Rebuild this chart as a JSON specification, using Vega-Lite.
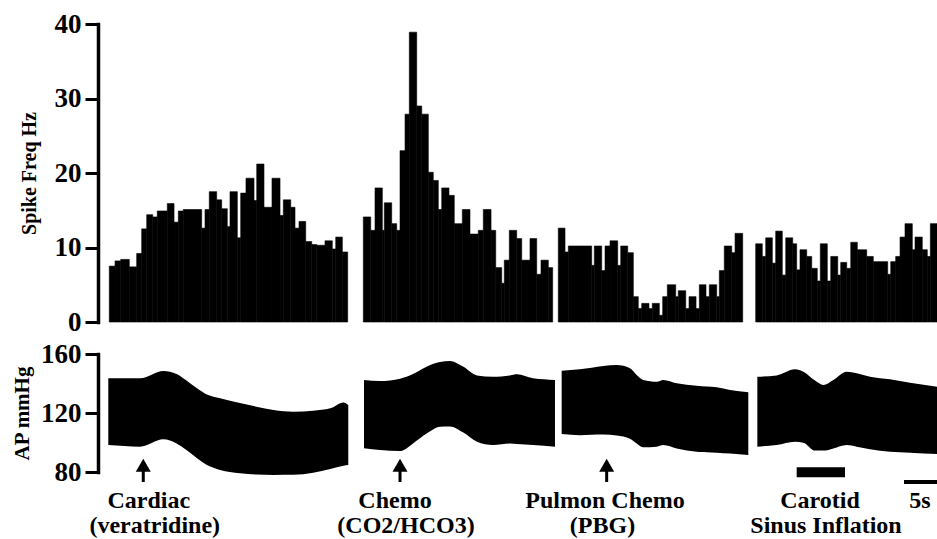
{
  "$schema": "https://vega.github.io/schema/vega-lite/v6.json",
  "width": 839,
  "height": 515,
  "autosize": "none",
  "padding": {"left": 98, "top": 24, "right": 0, "bottom": 0},
  "background": "white",
  "config": {"view": {"stroke": null}, "font": "Liberation Serif"},
  "datasets": {
    "spikes": [
      {"seg":1,"t0":1.71,"t1":2.58,"hz":7.5},{"seg":1,"t0":2.58,"t1":3.44,"hz":8.2},{"seg":1,"t0":3.44,"t1":4.74,"hz":8.4},{"seg":1,"t0":4.74,"t1":5.86,"hz":7.4},{"seg":1,"t0":5.86,"t1":6.62,"hz":9.2},{"seg":1,"t0":6.62,"t1":7.38,"hz":12.5},{"seg":1,"t0":7.38,"t1":8.29,"hz":14.4},{"seg":1,"t0":8.29,"t1":8.98,"hz":14.1},{"seg":1,"t0":8.98,"t1":10.50,"hz":14.9},{"seg":1,"t0":10.50,"t1":11.52,"hz":15.9},{"seg":1,"t0":11.52,"t1":12.17,"hz":13.4},{"seg":1,"t0":12.17,"t1":12.92,"hz":14.9},{"seg":1,"t0":12.92,"t1":15.71,"hz":15.1},{"seg":1,"t0":15.71,"t1":16.21,"hz":12.6},{"seg":1,"t0":16.21,"t1":16.86,"hz":15.1},{"seg":1,"t0":16.86,"t1":17.98,"hz":17.5},{"seg":1,"t0":17.98,"t1":18.74,"hz":16.4},{"seg":1,"t0":18.74,"t1":19.59,"hz":15.2},{"seg":1,"t0":19.59,"t1":20.00,"hz":12.8},{"seg":1,"t0":20.00,"t1":21.11,"hz":17.5},{"seg":1,"t0":21.11,"t1":21.62,"hz":11.3},{"seg":1,"t0":21.62,"t1":22.42,"hz":17.3},{"seg":1,"t0":22.42,"t1":23.64,"hz":19.3},{"seg":1,"t0":23.64,"t1":24.05,"hz":16.3},{"seg":1,"t0":24.05,"t1":25.15,"hz":21.2},{"seg":1,"t0":25.15,"t1":26.36,"hz":15.4},{"seg":1,"t0":26.36,"t1":27.58,"hz":19.3},{"seg":1,"t0":27.58,"t1":28.08,"hz":14.3},{"seg":1,"t0":28.08,"t1":29.20,"hz":16.4},{"seg":1,"t0":29.20,"t1":29.85,"hz":15.4},{"seg":1,"t0":29.85,"t1":30.45,"hz":12.6},{"seg":1,"t0":30.45,"t1":31.47,"hz":13.5},{"seg":1,"t0":31.47,"t1":32.38,"hz":10.8},{"seg":1,"t0":32.38,"t1":33.14,"hz":10.4},{"seg":1,"t0":33.14,"t1":34.39,"hz":10.3},{"seg":1,"t0":34.39,"t1":35.50,"hz":10.9},{"seg":1,"t0":35.50,"t1":36.02,"hz":9.8},{"seg":1,"t0":36.02,"t1":37.02,"hz":11.4},{"seg":1,"t0":37.02,"t1":37.83,"hz":9.4},
      {"seg":2,"t0":40.20,"t1":41.32,"hz":14.1},{"seg":2,"t0":41.32,"t1":41.97,"hz":12.3},{"seg":2,"t0":41.97,"t1":43.08,"hz":18.0},{"seg":2,"t0":43.08,"t1":43.38,"hz":12.3},{"seg":2,"t0":43.38,"t1":44.50,"hz":16.0},{"seg":2,"t0":44.50,"t1":45.26,"hz":13.2},{"seg":2,"t0":45.26,"t1":45.76,"hz":12.3},{"seg":2,"t0":45.76,"t1":46.52,"hz":23.0},{"seg":2,"t0":46.52,"t1":47.17,"hz":27.9},{"seg":2,"t0":47.17,"t1":48.29,"hz":38.9},{"seg":2,"t0":48.29,"t1":49.05,"hz":29.0},{"seg":2,"t0":49.05,"t1":50.05,"hz":27.9},{"seg":2,"t0":50.05,"t1":50.80,"hz":20.1},{"seg":2,"t0":50.80,"t1":51.56,"hz":19.0},{"seg":2,"t0":51.56,"t1":52.08,"hz":15.1},{"seg":2,"t0":52.08,"t1":53.18,"hz":18.0},{"seg":2,"t0":53.18,"t1":53.98,"hz":17.0},{"seg":2,"t0":53.98,"t1":55.20,"hz":13.2},{"seg":2,"t0":55.20,"t1":56.36,"hz":15.1},{"seg":2,"t0":56.36,"t1":57.62,"hz":11.8},{"seg":2,"t0":57.62,"t1":58.38,"hz":12.3},{"seg":2,"t0":58.38,"t1":59.55,"hz":15.1},{"seg":2,"t0":59.55,"t1":60.26,"hz":12.3},{"seg":2,"t0":60.26,"t1":61.17,"hz":7.3},{"seg":2,"t0":61.17,"t1":61.56,"hz":5.2},{"seg":2,"t0":61.56,"t1":62.32,"hz":8.3},{"seg":2,"t0":62.32,"t1":63.44,"hz":12.3},{"seg":2,"t0":63.44,"t1":64.20,"hz":11.2},{"seg":2,"t0":64.20,"t1":65.45,"hz":8.3},{"seg":2,"t0":65.45,"t1":66.47,"hz":11.2},{"seg":2,"t0":66.47,"t1":67.12,"hz":6.4},{"seg":2,"t0":67.12,"t1":68.23,"hz":8.3},{"seg":2,"t0":68.23,"t1":68.89,"hz":7.3},
      {"seg":3,"t0":69.74,"t1":70.76,"hz":12.6},{"seg":3,"t0":70.76,"t1":71.26,"hz":9.4},{"seg":3,"t0":71.26,"t1":74.80,"hz":10.2},{"seg":3,"t0":74.80,"t1":75.20,"hz":7.6},{"seg":3,"t0":75.20,"t1":76.32,"hz":10.2},{"seg":3,"t0":76.32,"t1":76.82,"hz":6.9},{"seg":3,"t0":76.82,"t1":77.58,"hz":10.2},{"seg":3,"t0":77.58,"t1":78.74,"hz":10.9},{"seg":3,"t0":78.74,"t1":79.20,"hz":7.6},{"seg":3,"t0":79.20,"t1":80.26,"hz":10.2},{"seg":3,"t0":80.26,"t1":81.11,"hz":9.3},{"seg":3,"t0":81.11,"t1":81.86,"hz":3.4},{"seg":3,"t0":81.86,"t1":82.38,"hz":1.8},{"seg":3,"t0":82.38,"t1":83.48,"hz":2.5},{"seg":3,"t0":83.48,"t1":83.98,"hz":1.8},{"seg":3,"t0":83.98,"t1":85.05,"hz":2.5},{"seg":3,"t0":85.05,"t1":85.56,"hz":0.9},{"seg":3,"t0":85.56,"t1":86.26,"hz":3.4},{"seg":3,"t0":86.26,"t1":87.53,"hz":5.0},{"seg":3,"t0":87.53,"t1":87.92,"hz":3.4},{"seg":3,"t0":87.92,"t1":89.05,"hz":4.2},{"seg":3,"t0":89.05,"t1":89.55,"hz":1.8},{"seg":3,"t0":89.55,"t1":90.61,"hz":3.4},{"seg":3,"t0":90.61,"t1":91.11,"hz":1.8},{"seg":3,"t0":91.11,"t1":92.12,"hz":5.0},{"seg":3,"t0":92.12,"t1":92.62,"hz":3.4},{"seg":3,"t0":92.62,"t1":93.74,"hz":5.0},{"seg":3,"t0":93.74,"t1":94.14,"hz":3.4},{"seg":3,"t0":94.14,"t1":94.89,"hz":6.9},{"seg":3,"t0":94.89,"t1":96.02,"hz":10.2},{"seg":3,"t0":96.02,"t1":96.52,"hz":9.3},{"seg":3,"t0":96.52,"t1":97.68,"hz":11.9},
      {"seg":4,"t0":99.65,"t1":100.65,"hz":10.5},{"seg":4,"t0":100.65,"t1":101.17,"hz":8.8},{"seg":4,"t0":101.17,"t1":102.17,"hz":11.3},{"seg":4,"t0":102.17,"t1":102.68,"hz":7.9},{"seg":4,"t0":102.68,"t1":103.68,"hz":12.2},{"seg":4,"t0":103.68,"t1":104.20,"hz":6.3},{"seg":4,"t0":104.20,"t1":105.26,"hz":11.3},{"seg":4,"t0":105.26,"t1":105.86,"hz":10.5},{"seg":4,"t0":105.86,"t1":106.36,"hz":7.0},{"seg":4,"t0":106.36,"t1":107.38,"hz":9.7},{"seg":4,"t0":107.38,"t1":108.14,"hz":8.8},{"seg":4,"t0":108.14,"t1":108.98,"hz":7.2},{"seg":4,"t0":108.98,"t1":109.44,"hz":5.5},{"seg":4,"t0":109.44,"t1":110.50,"hz":10.5},{"seg":4,"t0":110.50,"t1":111.02,"hz":5.5},{"seg":4,"t0":111.02,"t1":112.08,"hz":8.8},{"seg":4,"t0":112.08,"t1":112.53,"hz":6.3},{"seg":4,"t0":112.53,"t1":113.44,"hz":8.0},{"seg":4,"t0":113.44,"t1":114.05,"hz":7.2},{"seg":4,"t0":114.05,"t1":115.05,"hz":10.7},{"seg":4,"t0":115.05,"t1":116.47,"hz":9.7},{"seg":4,"t0":116.47,"t1":117.47,"hz":8.8},{"seg":4,"t0":117.47,"t1":119.65,"hz":8.1},{"seg":4,"t0":119.65,"t1":120.11,"hz":6.4},{"seg":4,"t0":120.11,"t1":120.86,"hz":8.1},{"seg":4,"t0":120.86,"t1":121.52,"hz":8.8},{"seg":4,"t0":121.52,"t1":122.27,"hz":11.4},{"seg":4,"t0":122.27,"t1":123.38,"hz":13.2},{"seg":4,"t0":123.38,"t1":123.79,"hz":9.7},{"seg":4,"t0":123.79,"t1":124.89,"hz":11.4},{"seg":4,"t0":124.89,"t1":125.65,"hz":9.7},{"seg":4,"t0":125.65,"t1":126.11,"hz":8.8},{"seg":4,"t0":126.11,"t1":127.12,"hz":13.2}
    ],
    "ap": [
      {"seg":1,"t":1.56,"hi":143.5,"lo":98.3},{"seg":1,"t":6.36,"hi":143.5,"lo":97.2},{"seg":1,"t":9.9,"hi":148.5,"lo":102.2},{"seg":1,"t":11.9,"hi":146.5,"lo":99.4},{"seg":1,"t":13.4,"hi":142.0,"lo":94.9},{"seg":1,"t":15.0,"hi":136.7,"lo":89.3},{"seg":1,"t":16.5,"hi":132.5,"lo":84.7},{"seg":1,"t":18.5,"hi":130.0,"lo":81.4},{"seg":1,"t":21.5,"hi":126.8,"lo":79.1},{"seg":1,"t":24.0,"hi":124.3,"lo":78.3},{"seg":1,"t":26.6,"hi":122.0,"lo":78.0},{"seg":1,"t":29.6,"hi":120.9,"lo":78.1},{"seg":1,"t":32.6,"hi":121.6,"lo":79.5},{"seg":1,"t":35.2,"hi":123.2,"lo":82.0},{"seg":1,"t":37.2,"hi":127.2,"lo":84.2},{"seg":1,"t":37.92,"hi":125.4,"lo":84.7},
      {"seg":2,"t":40.30,"hi":142.4,"lo":96.1},{"seg":2,"t":42.73,"hi":141.7,"lo":94.9},{"seg":2,"t":45.76,"hi":143.3,"lo":94.2},{"seg":2,"t":47.73,"hi":146.5,"lo":99.4},{"seg":2,"t":49.85,"hi":151.5,"lo":106.2},{"seg":2,"t":51.82,"hi":154.5,"lo":110.7},{"seg":2,"t":53.33,"hi":155.2,"lo":110.9},{"seg":2,"t":55.30,"hi":151.5,"lo":106.9},{"seg":2,"t":57.42,"hi":145.5,"lo":100.5},{"seg":2,"t":59.85,"hi":144.6,"lo":98.3},{"seg":2,"t":62.42,"hi":145.5,"lo":99.4},{"seg":2,"t":63.48,"hi":146.2,"lo":99.0},{"seg":2,"t":65.91,"hi":143.5,"lo":98.3},{"seg":2,"t":69.24,"hi":142.4,"lo":97.2},
      {"seg":3,"t":70.25,"hi":148.7,"lo":105.8},{"seg":3,"t":73.03,"hi":149.6,"lo":105.0},{"seg":3,"t":76.57,"hi":151.9,"lo":105.5},{"seg":3,"t":78.59,"hi":152.5,"lo":104.8},{"seg":3,"t":80.61,"hi":150.3,"lo":102.5},{"seg":3,"t":81.62,"hi":145.8,"lo":99.4},{"seg":3,"t":82.63,"hi":142.4,"lo":96.7},{"seg":3,"t":84.65,"hi":141.2,"lo":97.2},{"seg":3,"t":85.65,"hi":142.4,"lo":98.3},{"seg":3,"t":87.68,"hi":140.1,"lo":96.0},{"seg":3,"t":90.71,"hi":138.5,"lo":93.8},{"seg":3,"t":93.74,"hi":137.4,"lo":93.1},{"seg":3,"t":95.76,"hi":135.6,"lo":92.5},{"seg":3,"t":98.53,"hi":134.0,"lo":91.5},
      {"seg":4,"t":99.9,"hi":144.6,"lo":97.2},{"seg":4,"t":102.83,"hi":145.5,"lo":98.3},{"seg":4,"t":105.61,"hi":149.6,"lo":100.5},{"seg":4,"t":106.87,"hi":148.0,"lo":99.9},{"seg":4,"t":108.64,"hi":142.0,"lo":94.5},{"seg":4,"t":109.9,"hi":139.0,"lo":94.5},{"seg":4,"t":111.41,"hi":142.4,"lo":96.0},{"seg":4,"t":113.44,"hi":148.0,"lo":98.3},{"seg":4,"t":114.95,"hi":146.9,"lo":97.2},{"seg":4,"t":116.97,"hi":144.6,"lo":95.4},{"seg":4,"t":120.0,"hi":142.8,"lo":93.8},{"seg":4,"t":123.03,"hi":140.5,"lo":93.1},{"seg":4,"t":127.12,"hi":137.8,"lo":92.2}
    ],
    "arrows": [{"t":6.86,"stim":"Cardiac"},{"t":45.76,"stim":"Chemo"},{"t":77.07,"stim":"Pulmon Chemo"}],
    "bars": [
      {"t0":105.86,"t1":113.18,"lo":76.4,"hi":83.2,"kind":"Carotid sinus inflation"},
      {"t0":122.12,"t1":127.12,"lo":71.9,"hi":74.6,"kind":"5 s scale"}
    ],
    "labels": [
      {"t":7.7,"v":55.6,"text":"Cardiac"},
      {"t":8.6,"v":38.6,"text":"(veratridine)"},
      {"t":45.0,"v":55.6,"text":"Chemo"},
      {"t":46.67,"v":38.6,"text":"(CO2/HCO3)"},
      {"t":76.82,"v":55.6,"text":"Pulmon Chemo"},
      {"t":76.44,"v":38.6,"text":"(PBG)"},
      {"t":109.39,"v":55.6,"text":"Carotid"},
      {"t":110.3,"v":38.6,"text":"Sinus Inflation"},
      {"t":124.55,"v":55.6,"text":"5s"}
    ]
  },
  "resolve": {"scale": {"y": "independent"}, "axis": {"y": "independent"}},
  "layer": [
    {
      "data": {"name": "spikes"},
      "mark": {"type": "rect", "color": "black", "stroke": "black", "strokeWidth": 0.6},
      "encoding": {
        "x": {"field": "t0", "type": "quantitative", "scale": {"domain": [0, 127.12], "nice": false, "zero": false}, "axis": null},
        "x2": {"field": "t1"},
        "y": {"field": "hz", "type": "quantitative", "scale": {"domain": [0, 40], "range": [298, 0], "nice": false, "zero": false},
          "axis": {"orient": "left", "title": "Spike Freq Hz", "values": [0, 10, 20, 30, 40], "grid": false,
            "domainColor": "black", "domainWidth": 3.5, "domainCap": "square", "tickColor": "black", "tickWidth": 3, "tickSize": 13,
            "labelFont": "Liberation Serif", "labelFontWeight": "bold", "labelFontSize": 27, "labelColor": "black", "labelPadding": 4,
            "titleFont": "Liberation Serif", "titleFontWeight": "bold", "titleFontSize": 20, "titleColor": "black", "titlePadding": 15}},
        "y2": {"datum": 0}
      }
    },
    {
      "data": {"name": "ap"},
      "mark": {"type": "area", "color": "black", "opacity": 1, "interpolate": "monotone"},
      "encoding": {
        "x": {"field": "t", "type": "quantitative"},
        "y": {"field": "hi", "type": "quantitative", "stack": null, "scale": {"domain": [80, 160], "range": [448, 330], "nice": false, "zero": false},
          "axis": {"orient": "left", "title": "AP mmHg", "values": [80, 120, 160], "grid": false,
            "domainColor": "black", "domainWidth": 3.5, "domainCap": "square", "tickColor": "black", "tickWidth": 3, "tickSize": 13,
            "labelFont": "Liberation Serif", "labelFontWeight": "bold", "labelFontSize": 27, "labelColor": "black", "labelPadding": 4,
            "titleFont": "Liberation Serif", "titleFontWeight": "bold", "titleFontSize": 21, "titleColor": "black", "titlePadding": 8}},
        "y2": {"field": "lo"},
        "detail": {"field": "seg", "type": "nominal"}
      }
    },
    {
      "data": {"name": "arrows"},
      "mark": {"type": "rule", "color": "black", "strokeWidth": 3},
      "encoding": {
        "x": {"field": "t", "type": "quantitative"},
        "y": {"datum": 73.2, "type": "quantitative", "scale": {"domain": [80, 160], "range": [448, 330], "nice": false, "zero": false}, "axis": null},
        "y2": {"datum": 84.5}
      }
    },
    {
      "data": {"name": "arrows"},
      "mark": {"type": "point", "shape": "triangle-up", "filled": true, "color": "black", "size": 225, "opacity": 1},
      "encoding": {
        "x": {"field": "t", "type": "quantitative"},
        "y": {"datum": 84.5, "type": "quantitative", "scale": {"domain": [80, 160], "range": [448, 330], "nice": false, "zero": false}, "axis": null}
      }
    },
    {
      "data": {"name": "bars"},
      "mark": {"type": "rect", "color": "black"},
      "encoding": {
        "x": {"field": "t0", "type": "quantitative"},
        "x2": {"field": "t1"},
        "y": {"field": "lo", "type": "quantitative", "scale": {"domain": [80, 160], "range": [448, 330], "nice": false, "zero": false}, "axis": null},
        "y2": {"field": "hi"}
      }
    },
    {
      "data": {"name": "labels"},
      "mark": {"type": "text", "font": "Liberation Serif", "fontWeight": "bold", "fontSize": 24, "color": "black", "align": "center", "baseline": "alphabetic"},
      "encoding": {
        "x": {"field": "t", "type": "quantitative"},
        "y": {"field": "v", "type": "quantitative", "scale": {"domain": [80, 160], "range": [448, 330], "nice": false, "zero": false}, "axis": null},
        "text": {"field": "text"}
      }
    }
  ]
}
